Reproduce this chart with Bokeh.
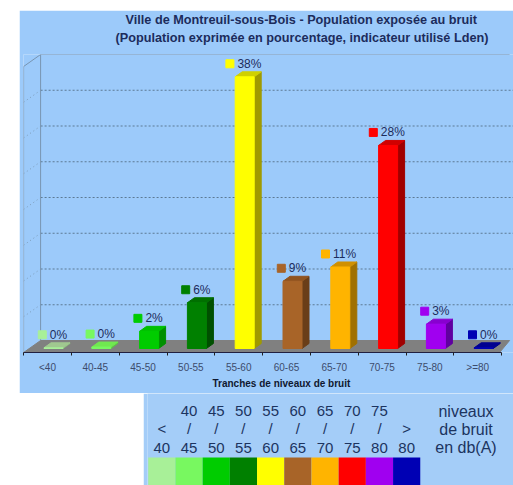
from bokeh.plotting import figure
from bokeh.layouts import column
from bokeh.models import Range1d, FixedTicker, Title
from bokeh.embed import file_html
from bokeh.resources import INLINE

categories = ["<40", "40-45", "45-50", "50-55", "55-60", "60-65", "65-70", "70-75", "75-80", ">=80"]
values = [0.1, 0.2, 2.4, 6.4, 38.0, 9.4, 11.4, 28.4, 3.4, 0.1]
labels = ["0%", "0%", "2%", "6%", "38%", "9%", "11%", "28%", "3%", "0%"]
colors = ["#A8F098", "#78F860", "#00CC00", "#008000", "#FFFF00", "#A86428", "#FFB400", "#FF0000", "#A000F0", "#0000B4"]
side_colors = ["#88B878", "#60C048", "#009000", "#005000", "#A09A00", "#6A3E18", "#A07000", "#A00000", "#6000A0", "#000080"]
top_colors = ["#A0C890", "#70E850", "#00C000", "#007000", "#D0D000", "#905420", "#D09000", "#D00000", "#8800D0", "#000090"]
grid_values = [5, 10, 15, 20, 25, 30, 35]
legend_top = ["", "40", "45", "50", "55", "60", "65", "70", "75", ""]
legend_mid = ["<", "/", "/", "/", "/", "/", "/", "/", "/", ">"]
legend_bot = ["40", "45", "50", "55", "60", "65", "70", "75", "80", "80"]
legend_note = ["niveaux", "de bruit", "en db(A)"]

BG = "#9CCAFA"
BG2 = "#A4CDF8"
INK = "#1C2C5C"
PX_X = 47.8          # pixels per category
PX_V = 7.15          # pixels per percent
FRAME_L, FRAME_R, FRAME_T, FRAME_B = 23, 513, 54, 352
ZERO_Y = 348         # screen row of a bar's foot
SLOT0 = 47           # screen column of the first category


def dx(px):
    return px / PX_X


def dv(px):
    return px / PX_V


p = figure(
    width=494, height=383, output_backend="svg", toolbar_location=None,
    x_range=Range1d((FRAME_L - SLOT0) / PX_X, (FRAME_R - SLOT0) / PX_X),
    y_range=Range1d((ZERO_Y - FRAME_B) / PX_V, (ZERO_Y - FRAME_T) / PX_V),
    y_axis_type=None, min_border_left=FRAME_L - 19, min_border_right=0,
    min_border_top=FRAME_T - 10, min_border_bottom=393 - FRAME_B,
    frame_width=FRAME_R - FRAME_L, frame_height=FRAME_B - FRAME_T,
    background_fill_color=BG, border_fill_color=BG, outline_line_color=None,
    margin=(10, 0, 0, 19),
)
p.xgrid.visible = False
p.ygrid.visible = False

n = len(categories)
xleft, xright = -0.5, n - 0.5
back_v = dv(ZERO_Y - 340)
front_v = dv(ZERO_Y - 352)
depth_x = dx(17)
top_v = dv(ZERO_Y - 54)

# back wall grid and side wall
for g in grid_values:
    yy = back_v + g
    p.line([xleft + depth_x, xleft + 100], [yy, yy], line_color="#5C7A94", line_dash="2 2", line_width=1)
    p.line([xleft, xleft + depth_x], [yy - (back_v - front_v), yy], line_color="#7C9AB6", line_dash="1 3", line_width=1)
p.line([xleft + depth_x, xleft + depth_x], [back_v, top_v], line_color="#7894B0", line_width=1)
p.line([xleft + depth_x, xright + dx(8)], [top_v, top_v], line_color="#7894B0", line_width=1)
p.line([xleft, xleft, xleft + depth_x], [front_v, top_v - (back_v - front_v), top_v], line_color="#7894B0", line_width=1)

# floor
p.patch([xleft, xleft + depth_x, xright + dx(8), xright - dx(2)], [front_v, back_v, back_v, front_v],
        fill_color="#808080", line_color="#808080")

# bars
half = dx(9.5)
shift = dx(6)
bar_d = dx(7)
bar_h = dv(5)
cx = [i + shift for i in range(n)]
p.patches([[c + half, c + half + bar_d, c + half + bar_d, c + half] for c in cx],
          [[0, bar_h, v + bar_h, v] for v in values], fill_color=side_colors, line_color=side_colors)
p.patches([[c - half, c + half, c + half + bar_d, c - half + bar_d] for c in cx],
          [[v, v, v + bar_h, v + bar_h] for v in values], fill_color=top_colors, line_color=top_colors)
p.quad(left=[c - half for c in cx], right=[c + half for c in cx], bottom=[0] * n, top=values,
       fill_color=colors, line_color=colors)

# value labels: a coloured square followed by the percentage, centred over the bar
text_w = [7.2 * len(s) + 4 for s in labels]
marker_x = [c + dx(-(w + 13) / 2 + 4.5) for c, w in zip(cx, text_w)]
text_x = [c + dx(-(w + 13) / 2 + 12) for c, w in zip(cx, text_w)]
label_y = [v + dv(13) for v in values]
p.scatter(marker_x, label_y, marker="square", size=8, fill_color=colors, line_color=colors)
p.text(text_x, label_y, text=labels, text_font_size="12px", text_color=INK,
       text_align="left", text_baseline="middle", text_font={"value": "Liberation Sans"})

# x axis
ax = p.xaxis[0]
ax.ticker = FixedTicker(ticks=list(range(n)), minor_ticks=[i - 0.5 for i in range(n + 1)])
ax.major_label_overrides = {i: c for i, c in enumerate(categories)}
ax.major_tick_in = 0
ax.major_tick_out = 0
ax.minor_tick_in = 0
ax.minor_tick_out = 3
ax.minor_tick_line_color = "#202020"
ax.axis_line_color = "#202040"
ax.axis_line_width = 1
ax.bounds = (xleft, xright)
ax.major_label_text_font = "Liberation Sans"
ax.major_label_text_font_size = "10px"
ax.major_label_text_color = "#3C4C6C"
ax.major_label_standoff = 6

# titles
spacer = Title(text=" ", standoff=0, text_font_size="5.7px", text_color=BG)
t2 = Title(text="(Population exprimée en pourcentage, indicateur utilisé Lden)", align="left", offset=92,
           standoff=4, text_font="Liberation Sans", text_font_size="12.7px", text_font_style="bold", text_color=INK)
t1 = Title(text="Ville de Montreuil-sous-Bois - Population exposée au bruit", align="left", offset=102,
           standoff=0, text_font="Liberation Sans", text_font_size="12.7px", text_font_style="bold", text_color=INK)
p.add_layout(spacer, "above")
p.add_layout(t2, "above")
p.add_layout(t1, "above")
xt = Title(text="Tranches de niveaux de bruit", align="left", offset=189, standoff=0,
           text_font="Liberation Sans", text_font_size="10px", text_font_style="bold", text_color="#101830")
p.add_layout(xt, "below")

# colour key
CELL = 27.5
KEY0 = 157.5
q = figure(
    width=370, height=92, output_backend="svg", toolbar_location=None,
    x_range=Range1d((143 - KEY0) / CELL, (513 - KEY0) / CELL), y_range=Range1d(0, 92),
    x_axis_type=None, y_axis_type=None, min_border=0,
    background_fill_color=BG2, border_fill_color=BG2, outline_line_color=None,
    margin=(0, 0, 0, 143),
)
q.xgrid.visible = False
q.ygrid.visible = False
idx = list(range(n))
q.quad(left=[i - 0.5 for i in idx], right=[i + 0.5 for i in idx], bottom=[0] * n, top=[28] * n,
       fill_color=colors, line_color=None)
for row, yy in ((legend_top, 75), (legend_mid, 57), (legend_bot, 38)):
    q.text(idx, [yy] * n, text=row, text_font_size="15px", text_color="#1C3460", text_align="center",
           text_baseline="middle", text_font={"value": "Liberation Sans"})
q.text([(468 - 3 - KEY0) / CELL] * 3, [74, 56, 38], text=legend_note, text_font_size="16px", text_color="#1C3460",
       text_align="center", text_baseline="middle", text_font={"value": "Liberation Sans"})

page = column(p, q, spacing=0)
open("out.html", "w").write(file_html(page, INLINE))
